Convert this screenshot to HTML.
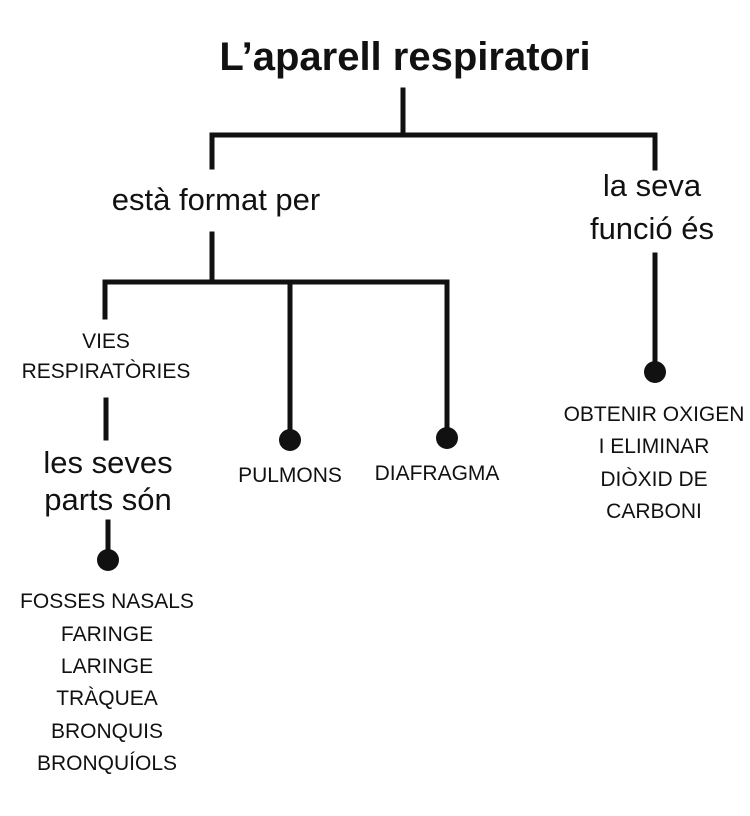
<!DOCTYPE html>
<html><head><meta charset="utf-8"><style>
html,body{margin:0;padding:0;background:#fff;width:750px;height:816px;overflow:hidden}
svg{display:block}
text{font-family:"Liberation Sans","DejaVu Sans",sans-serif;fill:#111}
.c{font-size:21px;text-anchor:middle}
.h{font-size:31px;text-anchor:middle}
</style></head><body>
<svg width="750" height="816" viewBox="0 0 750 816" xmlns="http://www.w3.org/2000/svg">
<g stroke="#111" stroke-width="5" fill="none" stroke-linecap="square">
<path d="M403 90V133M212 135H655M212 135V167M655 135V168"/>
<path d="M212 234V282M105 282H447M105 282V317M290 282V438M447 282V436"/>
<path d="M106 400V438M108 522V556M655 255V368"/>
</g>
<g fill="#111">
<circle cx="290" cy="440" r="11"/>
<circle cx="447" cy="438" r="11"/>
<circle cx="108" cy="560" r="11"/>
<circle cx="655" cy="372" r="11"/>
</g>
<text x="405" y="70" style="font-size:40px;font-weight:bold;text-anchor:middle">L’aparell respiratori</text>
<text class="h" x="216" y="210">està format per</text>
<text class="h" x="652" y="196">la seva</text>
<text class="h" x="652" y="239">funció és</text>
<text class="c" x="106" y="348">VIES</text>
<text class="c" x="106" y="378">RESPIRATÒRIES</text>
<text class="h" x="108" y="473">les seves</text>
<text class="h" x="108" y="510">parts són</text>
<text class="c" x="290" y="482">PULMONS</text>
<text class="c" x="437" y="480">DIAFRAGMA</text>
<text class="c" x="654" y="421">OBTENIR OXIGEN</text>
<text class="c" x="654" y="453">I ELIMINAR</text>
<text class="c" x="654" y="486">DIÒXID DE</text>
<text class="c" x="654" y="518">CARBONI</text>
<text class="c" x="107" y="608">FOSSES NASALS</text>
<text class="c" x="107" y="641">FARINGE</text>
<text class="c" x="107" y="673">LARINGE</text>
<text class="c" x="107" y="705">TRÀQUEA</text>
<text class="c" x="107" y="738">BRONQUIS</text>
<text class="c" x="107" y="770">BRONQUÍOLS</text>
</svg>
</body></html>
